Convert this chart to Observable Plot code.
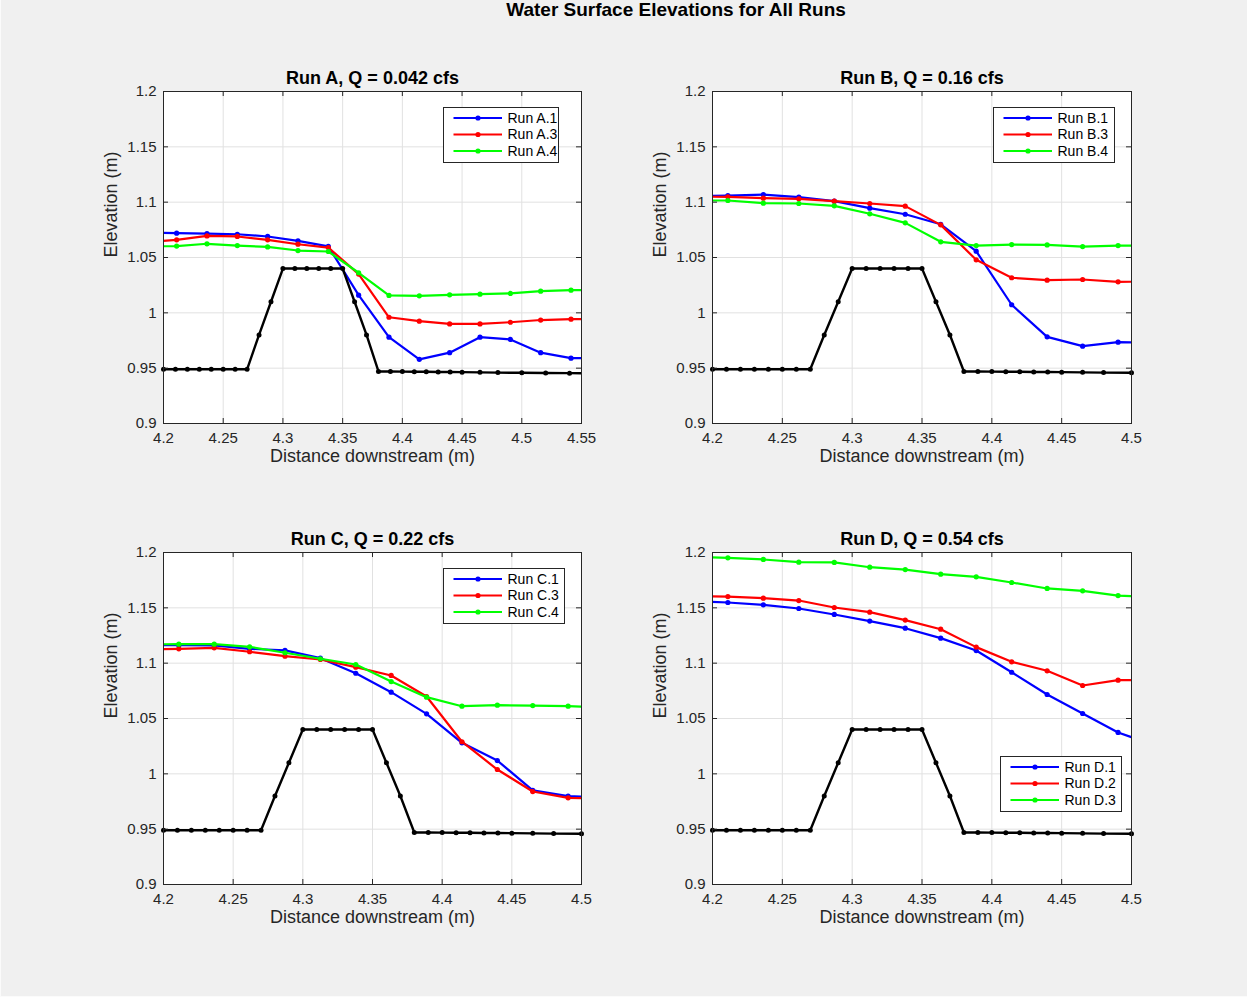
<!DOCTYPE html>
<html>
<head>
<meta charset="utf-8">
<script src="https://cdn.jsdelivr.net/npm/d3@7"></script>
<script src="https://cdn.jsdelivr.net/npm/@observablehq/plot@0.6"></script>
<style>
  html, body { margin: 0; padding: 0; background: #fafafa; }
  #fig {
    position: absolute; left: 0; top: 0; width: 1247px; height: 997px;
    background: #f0f0f0; overflow: hidden;
    box-shadow: inset 1px -1px 0 #fbfbfb;
    font-family: "Liberation Sans", Arial, Helvetica, sans-serif;
  }
  #fig svg { position: absolute; }
</style>
</head>
<body>
<div id="fig"></div>
<script>
// ---- Figure text ----
const figureTitle = "Water Surface Elevations for All Runs";
const xAxisLabel = "Distance downstream (m)";
const yAxisLabel = "Elevation (m)";
const panelTitles = ["Run A, Q = 0.042 cfs", "Run B, Q = 0.16 cfs", "Run C, Q = 0.22 cfs", "Run D, Q = 0.54 cfs"];

// ---- Axis ticks ----
const xTicksA = [4.2, 4.25, 4.3, 4.35, 4.4, 4.45, 4.5, 4.55];
const xTickLabelsA = ["4.2", "4.25", "4.3", "4.35", "4.4", "4.45", "4.5", "4.55"];
const xTicks = [4.2, 4.25, 4.3, 4.35, 4.4, 4.45, 4.5];
const xTickLabels = ["4.2", "4.25", "4.3", "4.35", "4.4", "4.45", "4.5"];
const yTicks = [0.9, 0.95, 1, 1.05, 1.1, 1.15, 1.2];
const yTickLabels = ["0.9", "0.95", "1", "1.05", "1.1", "1.15", "1.2"];

// ---- Bed profile (weir), shared by all runs ----
const bedX = [4.20, 4.21, 4.22, 4.23, 4.24, 4.25, 4.26, 4.27, 4.28, 4.29, 4.30, 4.31, 4.32, 4.33, 4.34, 4.35,
              4.36, 4.37, 4.38, 4.39, 4.40, 4.41, 4.42, 4.43, 4.44, 4.45, 4.465, 4.48, 4.50, 4.52, 4.54, 4.56];
const bedY = [0.949, 0.949, 0.949, 0.949, 0.949, 0.949, 0.949, 0.949, 0.98, 1.01, 1.04, 1.04, 1.04, 1.04, 1.04, 1.04,
              1.01, 0.98, 0.947, 0.947, 0.9469, 0.9468, 0.9467, 0.9466, 0.9465, 0.9464, 0.9462, 0.946, 0.9458, 0.9456, 0.9455, 0.9453];

// ---- Water surface measurement stations (m) ----
const stationsA = [4.1856, 4.2110, 4.2364, 4.2618, 4.2872, 4.3126, 4.3380, 4.3634, 4.3888, 4.4142, 4.4396, 4.4650, 4.4904, 4.5158, 4.5412, 4.5666];
const stations  = [4.1856, 4.2110, 4.2364, 4.2618, 4.2872, 4.3126, 4.3380, 4.3634, 4.3888, 4.4142, 4.4396, 4.4650, 4.4904, 4.5158];

// ---- Water surface elevations (m) ----
const runA1 = [1.0725, 1.072, 1.0715, 1.071, 1.069, 1.065, 1.060, 1.016, 0.978, 0.958, 0.964, 0.978, 0.976, 0.964, 0.959, 0.959];
const runA3 = [1.064, 1.066, 1.0695, 1.069, 1.066, 1.062, 1.059, 1.035, 0.996, 0.9925, 0.990, 0.990, 0.9915, 0.9935, 0.9943, 0.9945];
const runA4 = [1.060, 1.0603, 1.0624, 1.0608, 1.0596, 1.0563, 1.0554, 1.0362, 1.0157, 1.0154, 1.0163, 1.0169, 1.0175, 1.0196, 1.0205, 1.0205];

const runB1 = [1.1055, 1.106, 1.1069, 1.1045, 1.1009, 1.0946, 1.0891, 1.080, 1.0557, 1.0073, 0.9783, 0.9699, 0.9735, 0.973];
const runB3 = [1.105, 1.1048, 1.1036, 1.103, 1.1009, 1.0988, 1.0964, 1.0795, 1.0479, 1.0317, 1.0295, 1.0301, 1.028, 1.0283];
const runB4 = [1.1015, 1.1015, 1.0991, 1.0988, 1.0967, 1.0895, 1.0813, 1.0642, 1.0608, 1.0617, 1.0614, 1.0599, 1.0608, 1.0608];

const runC1 = [1.1165, 1.1163, 1.116, 1.113, 1.1115, 1.1045, 1.0909, 1.0738, 1.0542, 1.028, 1.012, 0.985, 0.9798, 0.979];
const runC3 = [1.1125, 1.113, 1.1139, 1.1103, 1.1063, 1.1033, 1.0964, 1.0889, 1.0699, 1.029, 1.0039, 0.984, 0.9783, 0.9775];
const runC4 = [1.117, 1.1172, 1.1172, 1.1148, 1.1094, 1.104, 1.0988, 1.0834, 1.0693, 1.0611, 1.062, 1.0617, 1.0611, 1.0602];

const runD1 = [1.156, 1.1548, 1.1527, 1.1494, 1.144, 1.138, 1.1316, 1.1226, 1.1114, 1.0918, 1.0717, 1.0545, 1.0374, 1.026];
const runD2 = [1.1605, 1.1602, 1.1587, 1.1566, 1.1503, 1.1461, 1.1389, 1.1307, 1.1145, 1.1012, 1.0931, 1.0798, 1.0846, 1.0846];
const runD3 = [1.196, 1.1952, 1.1937, 1.1913, 1.191, 1.1867, 1.1846, 1.1804, 1.178, 1.1729, 1.1675, 1.1654, 1.1611, 1.1597];

const runColors = ["#0000ff", "#ff0000", "#00ff00"];

// ---- Panel layout ----
const FONT = '"Liberation Sans", Arial, Helvetica, sans-serif';
const AXIS_GRAY = "#262626";
const panels = [
  {title: panelTitles[0], left: 163, top: 91, w: 418, domain: [4.2, 4.55], ticks: xTicksA, labels: xTickLabelsA, x: stationsA,
   runs: [["Run A.1", runA1], ["Run A.3", runA3], ["Run A.4", runA4]], legend: {left: 443, top: 107, width: 116}},
  {title: panelTitles[1], left: 712, top: 91, w: 419, domain: [4.2, 4.5], ticks: xTicks, labels: xTickLabels, x: stations,
   runs: [["Run B.1", runB1], ["Run B.3", runB3], ["Run B.4", runB4]], legend: {left: 993, top: 107, width: 122}},
  {title: panelTitles[2], left: 163, top: 552, w: 418, domain: [4.2, 4.5], ticks: xTicks, labels: xTickLabels, x: stations,
   runs: [["Run C.1", runC1], ["Run C.3", runC3], ["Run C.4", runC4]], legend: {left: 443, top: 568, width: 122}},
  {title: panelTitles[3], left: 712, top: 552, w: 419, domain: [4.2, 4.5], ticks: xTicks, labels: xTickLabels, x: stations,
   runs: [["Run D.1", runD1], ["Run D.2", runD2], ["Run D.3", runD3]], legend: {left: 1000, top: 756, width: 122}}
];

const fig = document.getElementById("fig");

// Figure title
d3.select(fig).append("svg")
  .attr("width", 1247).attr("height", 30)
  .style("left", "0px").style("top", "0px")
  .append("text")
  .attr("x", 676).attr("y", 16)
  .attr("text-anchor", "middle")
  .attr("font-family", FONT).attr("font-size", 19).attr("font-weight", "bold")
  .attr("fill", "#000")
  .text(figureTitle);

const yLabelOf = new Map(yTicks.map((t, i) => [t, yTickLabels[i]]));

function drawPanel(p) {
  const mL = 90, mR = 20, mT = 40, mB = 60, H = 332;
  const xLabelOf = new Map(p.ticks.map((t, i) => [t, p.labels[i]]));
  const inDomain = (d) => d.x >= p.domain[0] - 1e-9 && d.x <= p.domain[1] + 1e-9;
  const bed = bedX.map((x, i) => ({x, y: bedY[i]}));
  const series = p.runs.map(([name, ys], k) => ({
    name, color: runColors[k], rows: p.x.map((x, i) => ({x, y: ys[i]}))
  }));

  const marks = [
    Plot.frame({fill: "white", stroke: null}),
    Plot.gridX(p.ticks, {stroke: "#e1e1e1", strokeOpacity: 1, strokeWidth: 1}),
    Plot.gridY(yTicks, {stroke: "#e1e1e1", strokeOpacity: 1, strokeWidth: 1}),
    ...series.flatMap((s) => [
      Plot.line(s.rows, {x: "x", y: "y", stroke: s.color, strokeWidth: 2.2, clip: true}),
      Plot.dot(s.rows, {x: "x", y: "y", fill: s.color, r: 2.6, filter: inDomain})
    ]),
    Plot.line(bed, {x: "x", y: "y", stroke: "#000", strokeWidth: 2.4, clip: true}),
    Plot.dot(bed, {x: "x", y: "y", fill: "#000", r: 2.5, filter: inDomain}),
    Plot.frame({stroke: AXIS_GRAY, strokeWidth: 1}),
    // inward ticks on all four sides
    Plot.tickX(p.ticks, {x: (d) => d, insetTop: H - 5, stroke: AXIS_GRAY}),
    Plot.tickX(p.ticks, {x: (d) => d, insetBottom: H - 5, stroke: AXIS_GRAY}),
    Plot.tickY(yTicks, {y: (d) => d, insetRight: p.w - 5, stroke: AXIS_GRAY}),
    Plot.tickY(yTicks, {y: (d) => d, insetLeft: p.w - 5, stroke: AXIS_GRAY}),
    Plot.axisX(p.ticks, {tickSize: 0, tickPadding: 9, fontSize: 15, color: AXIS_GRAY, label: null,
                         tickFormat: (d) => xLabelOf.get(d)}),
    Plot.axisY(yTicks, {tickSize: 0, tickPadding: 7, fontSize: 15, color: AXIS_GRAY, label: null,
                        tickFormat: (d) => yLabelOf.get(d)}),
    Plot.text([p.title], {text: (d) => d, frameAnchor: "top", lineAnchor: "middle", dy: -13,
                          fontSize: 18, fontWeight: "bold", fill: "#000"}),
    Plot.text([xAxisLabel], {text: (d) => d, frameAnchor: "bottom", lineAnchor: "middle", dy: 33,
                             fontSize: 18, fill: AXIS_GRAY}),
    Plot.text([yAxisLabel], {text: (d) => d, frameAnchor: "left", lineAnchor: "middle", rotate: -90, dx: -52.5,
                             fontSize: 18, fill: AXIS_GRAY})
  ];

  const svg = Plot.plot({
    width: p.w + mL + mR,
    height: H + mT + mB,
    marginLeft: mL, marginRight: mR, marginTop: mT, marginBottom: mB,
    x: {domain: p.domain},
    y: {domain: [0.9, 1.2]},
    style: {background: "transparent", overflow: "visible", fontFamily: FONT, fontSize: "15px", color: AXIS_GRAY},
    marks
  });
  svg.style.position = "absolute";
  svg.style.left = (p.left - mL) + "px";
  svg.style.top = (p.top - mT) + "px";
  fig.appendChild(svg);

  // Legend: line-with-marker swatch per run
  const L = p.legend, LH = 56;
  const lg = d3.select(fig).append("svg")
    .attr("width", L.width + 2).attr("height", LH + 2)
    .style("left", (L.left - 1) + "px").style("top", (L.top - 1) + "px");
  lg.append("rect").attr("x", 1.5).attr("y", 1.5).attr("width", L.width - 1).attr("height", LH - 1)
    .attr("fill", "#fff").attr("stroke", AXIS_GRAY).attr("stroke-width", 1);
  const rowY = [12, 28.5, 45];
  series.forEach((s, k) => {
    const g = lg.append("g").attr("transform", `translate(1,${rowY[k]})`);
    g.append("line").attr("x1", 10.5).attr("x2", 59).attr("y1", 0).attr("y2", 0)
      .attr("stroke", s.color).attr("stroke-width", 2.2);
    g.append("circle").attr("cx", 35).attr("cy", 0).attr("r", 2.6).attr("fill", s.color);
    g.append("text").attr("x", 64.5).attr("y", 0).attr("dy", "0.35em")
      .attr("font-family", FONT).attr("font-size", 14).attr("fill", "#000")
      .text(s.name);
  });
}

panels.forEach(drawPanel);
</script>
</body>
</html>
